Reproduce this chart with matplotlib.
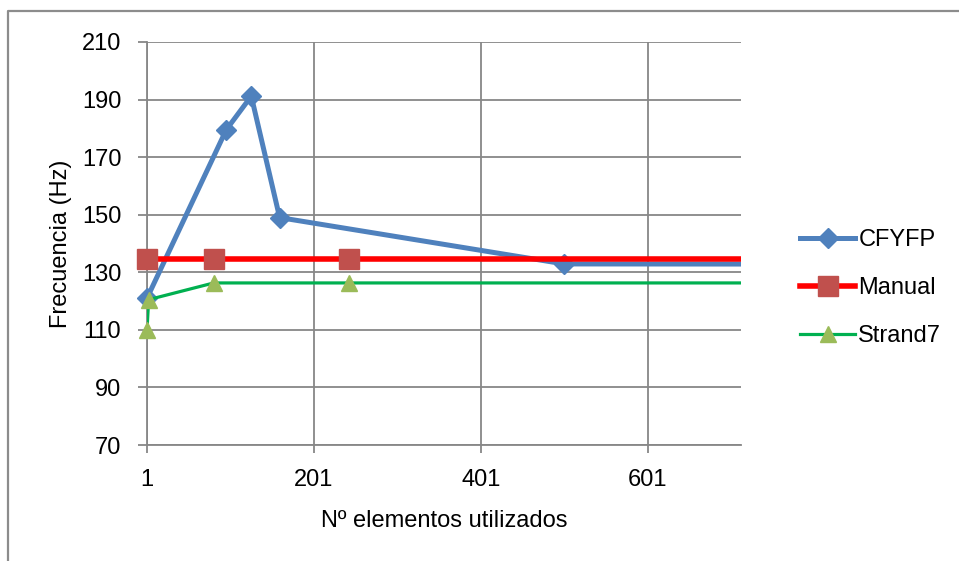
import numpy as np
import matplotlib
matplotlib.use("Agg")
import matplotlib.pyplot as plt
from matplotlib.lines import Line2D

plt.rcParams['font.family'] = ['Liberation Sans Narrow', 'Liberation Sans', 'DejaVu Sans']

# frequency results vs number of elements
cfyfp_x = [1, 96, 126, 160, 501, 1001]
cfyfp_y = [121.0, 179.5, 191.2, 149.0, 132.9, 132.8]

manual_x = [1, 81, 243, 1001]
manual_y = [134.6, 134.6, 134.6, 134.6]

strand7_x = [1, 3, 81, 243, 1001]
strand7_y = [110.0, 120.5, 126.3, 126.3, 126.3]

x_ticks = [1, 201, 401, 601]
y_ticks = [70, 90, 110, 130, 150, 170, 190, 210]
x_max = 713

grid_col = '#878787'

fig = plt.figure(figsize=(9.59, 5.61), dpi=100)
ax = fig.add_axes([147/959, 1 - 445/561, 594/959, 403/561])

# outer chart border (top and left edges only visible)
fig.add_artist(Line2D([8/959, 8/959, 1.0], [0.0, 1 - 11/561, 1 - 11/561],
                      transform=fig.transFigure, color='#8c8c8c', lw=1.6))

series = [
    (cfyfp_x, cfyfp_y, 'CFYFP', '#4f81bd', 3.6, 'D', 9.8, '#4f81bd'),
    (manual_x, manual_y, 'Manual', '#ff0000', 4.0, 's', 14.5, '#c0504d'),
    (strand7_x, strand7_y, 'Strand7', '#00b050', 2.3, '^', 11.0, '#9bbb59'),
]

handles = []
z = 3
for xs, ys, name, lcol, lw, mk, ms, mcol in series:
    xs = np.array(xs)
    ys = np.array(ys)
    ax.plot(xs, ys, color=lcol, lw=lw, zorder=z, solid_joinstyle='miter')
    inside = xs <= x_max
    ax.plot(xs[inside], ys[inside], ls='none', marker=mk, ms=ms,
            markerfacecolor=mcol, markeredgecolor=mcol, zorder=z + 0.5,
            clip_on=False)
    z += 1
    handles.append(Line2D([], [], color=lcol, lw=lw, marker=mk, ms=ms,
                          markerfacecolor=mcol, markeredgecolor=mcol,
                          label=name))

ax.set_xlim(1, x_max)
ax.set_ylim(70, 210)
ax.set_xticks(x_ticks)
ax.set_yticks(y_ticks)

ax.set_axisbelow(True)
ax.grid(True, color=grid_col, lw=1.3)
for s in ['top', 'right']:
    ax.spines[s].set_visible(False)
for s in ['left', 'bottom']:
    ax.spines[s].set_color(grid_col)
    ax.spines[s].set_linewidth(1.3)

ax.tick_params(axis='y', length=6.5, width=1.3, color=grid_col,
               labelsize=17, pad=12)
ax.tick_params(axis='x', length=6, width=1.3, color=grid_col,
               labelsize=17, pad=11)

ax.set_ylabel('Frecuencia (Hz)', fontsize=17)
ax.yaxis.set_label_coords((72 - 147) / 594, 0.5)
ax.set_xlabel('N\u00ba elementos utilizados', fontsize=17)
ax.xaxis.set_label_coords(0.5, (445 - 510) / 403)

fig.legend(handles=handles, loc='center left',
           bbox_to_anchor=(800/959, 1 - 288/561),
           frameon=False, fontsize=17, handlelength=2.35,
           handletextpad=0.12, labelspacing=1.1, borderpad=0,
           borderaxespad=0, numpoints=1)

fig.savefig('out.png', dpi=100)
